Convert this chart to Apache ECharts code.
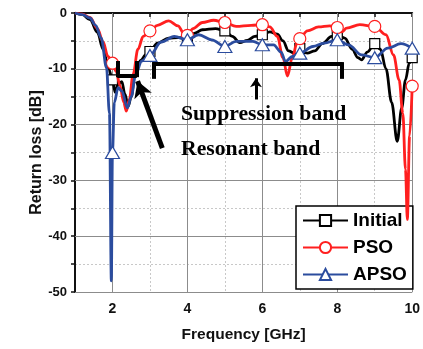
<!DOCTYPE html>
<html>
<head>
<meta charset="utf-8">
<script src="https://cdn.jsdelivr.net/npm/echarts@6/dist/echarts.min.js"></script>
<style>
  html, body { margin: 0; padding: 0; background: #fff; }
  #main { width: 423px; height: 349px; }
</style>
</head>
<body>
<div id="main"></div>
<script>
// frequency points (GHz) and return loss (dB)
var initFreq = [1.0, 1.2, 1.4, 1.6, 1.75, 1.9, 2.0, 2.07, 2.15, 2.25, 2.33, 2.42, 2.5, 2.6, 2.75, 2.9, 3.0, 3.2, 3.5, 3.75, 4.0, 4.2, 4.4, 4.75, 5.0, 5.2, 5.4, 5.6, 5.8, 6.0, 6.2, 6.4, 6.55, 6.7, 6.85, 7.0, 7.2, 7.4, 7.6, 7.85, 8.0, 8.2, 8.4, 8.55, 8.65, 8.8, 9.0, 9.15, 9.3, 9.45, 9.6, 9.72, 9.82, 9.92, 10.0];
var initLoss = [0, -0.3, -1.2, -3.5, -6.5, -10, -12, -14.2, -12.8, -12.3, -14.5, -16.7, -15, -11, -8.5, -7.4, -6.9, -5.4, -4.5, -4.4, -4.5, -3.6, -3.0, -2.8, -3.2, -4.2, -5.3, -4.9, -4.2, -3.9, -3.4, -3.8, -5, -6.8, -7.2, -6.4, -7.2, -6.8, -5.5, -4.2, -3.9, -4.5, -6.5, -8, -8.4, -7, -5.5, -6.5, -10, -16, -23, -17, -12, -9, -8];

var psoFreq = [1.0, 1.2, 1.4, 1.6, 1.75, 1.88, 2.0, 2.1, 2.2, 2.3, 2.37, 2.45, 2.55, 2.68, 2.82, 3.0, 3.2, 3.5, 3.75, 3.9, 4.0, 4.15, 4.4, 4.7, 5.0, 5.3, 5.7, 6.0, 6.2, 6.4, 6.55, 6.67, 6.8, 6.92, 7.0, 7.2, 7.5, 7.8, 8.0, 8.12, 8.25, 8.6, 9.0, 9.3, 9.5, 9.65, 9.75, 9.82, 9.87, 9.93, 10.0];
var psoLoss = [0, -0.2, -0.8, -2.8, -5.2, -7.8, -9, -10.5, -13, -16, -17.6, -15.5, -11, -6.5, -4.2, -3.2, -2.2, -1.4, -2.3, -3.6, -4.0, -2.8, -1.7, -1.3, -1.7, -2.4, -2.2, -2.1, -2.5, -4.2, -8, -11.3, -8, -5.5, -4.6, -3.2, -2.5, -2.3, -2.6, -3.4, -2.7, -2.1, -2.4, -3.9, -7.5, -12, -18, -28, -37, -22, -13.1];

var apsoFreq = [1.0, 1.2, 1.4, 1.55, 1.7, 1.84, 1.92, 1.97, 2.0, 2.05, 2.15, 2.25, 2.4, 2.5, 2.62, 2.78, 3.0, 3.3, 3.65, 4.0, 4.3, 4.65, 5.0, 5.3, 5.75, 6.0, 6.3, 6.5, 6.62, 6.8, 7.0, 7.35, 7.65, 8.0, 8.3, 8.65, 9.0, 9.35, 9.7, 10.0];
var apsoLoss = [0, -0.3, -0.9, -2.2, -4.5, -9.8, -18, -48, -25, -16, -13.4, -14, -17, -15, -11, -8.6, -7.6, -5.2, -4.2, -4.8, -3.9, -4.8, -6, -5.1, -5.1, -5.7, -5.7, -7, -8.7, -7.8, -7.2, -6, -5.4, -4.8, -5.7, -7.5, -8.0, -6.3, -5.5, -6.3];

// axis ticks
var xMajor = [2, 4, 6, 8, 10];
var yMajor = [-10, -20, -30, -40, -50];

// markers only on whole GHz (the one at 1 GHz sits under the frame)
function points(freq, loss) {
  var out = [];
  for (var i = 0; i < freq.length; i++) {
    var item = { value: [freq[i], loss[i]] };
    if (freq[i] % 1 !== 0 || freq[i] === 1) item.symbol = 'none';
    out.push(item);
  }
  return out;
}

var gridLines = [];
xMajor.forEach(function (v) { gridLines.push({ xAxis: v }); });
yMajor.forEach(function (v) { gridLines.push({ yAxis: v }); });

var thick = { color: '#000', width: 4, type: 'solid' };

var myChart = echarts.init(document.getElementById('main'));
var option = {
  animation: false,
  grid: { left: 75, right: 6, top: 13, bottom: 57 },
  xAxis: {
    type: 'value', min: 1, max: 10, interval: 1,
    name: 'Frequency [GHz]', nameLocation: 'middle', nameGap: 35, nameMoveOverlap: false,
    nameTextStyle: { fontFamily: 'Liberation Sans', fontWeight: 'bold', fontSize: 15.5, color: '#111' },
    axisLine: { lineStyle: { color: '#111', width: 2 } },
    axisTick: { inside: false, length: 4, lineStyle: { color: '#111', width: 1.5 } },
    axisLabel: {
      margin: 10, fontFamily: 'Liberation Sans', fontWeight: 'bold', fontSize: 14, color: '#111',
      formatter: function (v) { return v % 2 === 0 ? String(v) : ''; }
    },
    splitLine: { show: true, lineStyle: { color: '#c8c8c8', type: [2, 2], width: 1 } }
  },
  yAxis: {
    type: 'value', min: -50, max: 0, interval: 5,
    name: 'Return loss [dB]', nameLocation: 'middle', nameGap: 30, nameMoveOverlap: false,
    nameTextStyle: { fontFamily: 'Liberation Sans', fontWeight: 'bold', fontSize: 16, color: '#111' },
    axisLine: { show: true, lineStyle: { color: '#111', width: 2 } },
    axisTick: { show: true, inside: false, length: 4, lineStyle: { color: '#111', width: 1.5 } },
    axisLabel: {
      margin: 8, fontFamily: 'Liberation Sans', fontWeight: 'bold', fontSize: 13, color: '#111',
      formatter: function (v) { return v % 10 === 0 ? String(v) : ''; }
    },
    splitLine: { show: true, lineStyle: { color: '#c8c8c8', type: [2, 2], width: 1 } }
  },
  legend: {
    data: ['Initial', 'PSO', 'APSO'],
    orient: 'vertical', left: 296, top: 206,
    backgroundColor: '#fff', borderColor: '#000', borderWidth: 1.5,
    padding: [5, 6], itemGap: 8, itemWidth: 45, itemHeight: 14, itemTextGap: 5,
    textStyle: { fontFamily: 'Liberation Sans', fontWeight: 'bold', fontSize: 19, color: '#000' }
  },
  graphic: [
    { type: 'text', x: 181, y: 114, z: 20, style: { text: 'Suppression band', font: 'bold 21.7px "Liberation Serif"', fill: '#000', verticalAlign: 'middle' } },
    { type: 'text', x: 181, y: 149, z: 20, style: { text: 'Resonant band', font: 'bold 21.7px "Liberation Serif"', fill: '#000', verticalAlign: 'middle' } }
  ],
  series: [
    {
      name: 'grid', type: 'line', data: [], silent: true,
      markLine: {
        silent: true, z: 1, symbol: ['none', 'none'], label: { show: false },
        lineStyle: { color: '#8c8c8c', width: 1, type: 'solid' },
        data: gridLines
      }
    },
    {
      name: 'Initial', type: 'line', data: points(initFreq, initLoss), z: 3,
      smooth: 0.35, smoothMonotone: 'x', showAllSymbol: true,
      symbol: 'rect', symbolSize: 10,
      lineStyle: { color: '#000', width: 2.8 },
      itemStyle: { color: '#fff', borderColor: '#000', borderWidth: 1.2 }
    },
    {
      name: 'PSO', type: 'line', data: points(psoFreq, psoLoss), z: 4,
      smooth: 0.35, smoothMonotone: 'x', showAllSymbol: true,
      symbol: 'circle', symbolSize: 12,
      lineStyle: { color: '#ff1f1f', width: 2.8 },
      itemStyle: { color: '#fff', borderColor: '#ff1f1f', borderWidth: 1.2 }
    },
    {
      name: 'APSO', type: 'line', data: points(apsoFreq, apsoLoss), z: 5,
      smooth: 0.35, smoothMonotone: 'x', showAllSymbol: true,
      symbol: 'triangle', symbolSize: [14, 12],
      lineStyle: { color: '#2b4c9e', width: 2.8 },
      itemStyle: { color: '#fff', borderColor: '#2b4c9e', borderWidth: 1.2 }
    },
    {
      name: 'notes', type: 'line', data: [], silent: true,
      markLine: {
        silent: true, z: 10, symbol: ['none', 'none'], label: { show: false },
        lineStyle: thick,
        data: [
          // small bracket (resonant band)
          [{ coord: [2.13, -11.2] }, { coord: [2.65, -11.2] }],
          [{ coord: [2.13, -8.6] }, { coord: [2.13, -11.5] }],
          [{ coord: [2.65, -8.6] }, { coord: [2.65, -11.5] }],
          // large bracket (suppression band)
          [{ coord: [3.07, -9.07] }, { coord: [8.14, -9.07] }],
          [{ coord: [3.1, -8.8] }, { coord: [3.1, -11.8] }],
          [{ coord: [8.12, -8.8] }, { coord: [8.12, -11.8] }],
          // arrows
          [{ coord: [3.33, -24.2], symbol: 'none' },
           { coord: [2.67, -12.2], symbol: 'arrow', symbolSize: [14, 16], lineStyle: { width: 5 } }],
          [{ coord: [5.83, -15.5], symbol: 'none', lineStyle: { width: 3 } },
           { coord: [5.83, -11.7], symbol: 'arrow', symbolSize: [9, 9], lineStyle: { width: 3 } }]
        ]
      }
    }
  ]
};
myChart.setOption(option);
</script>
</body>
</html>
